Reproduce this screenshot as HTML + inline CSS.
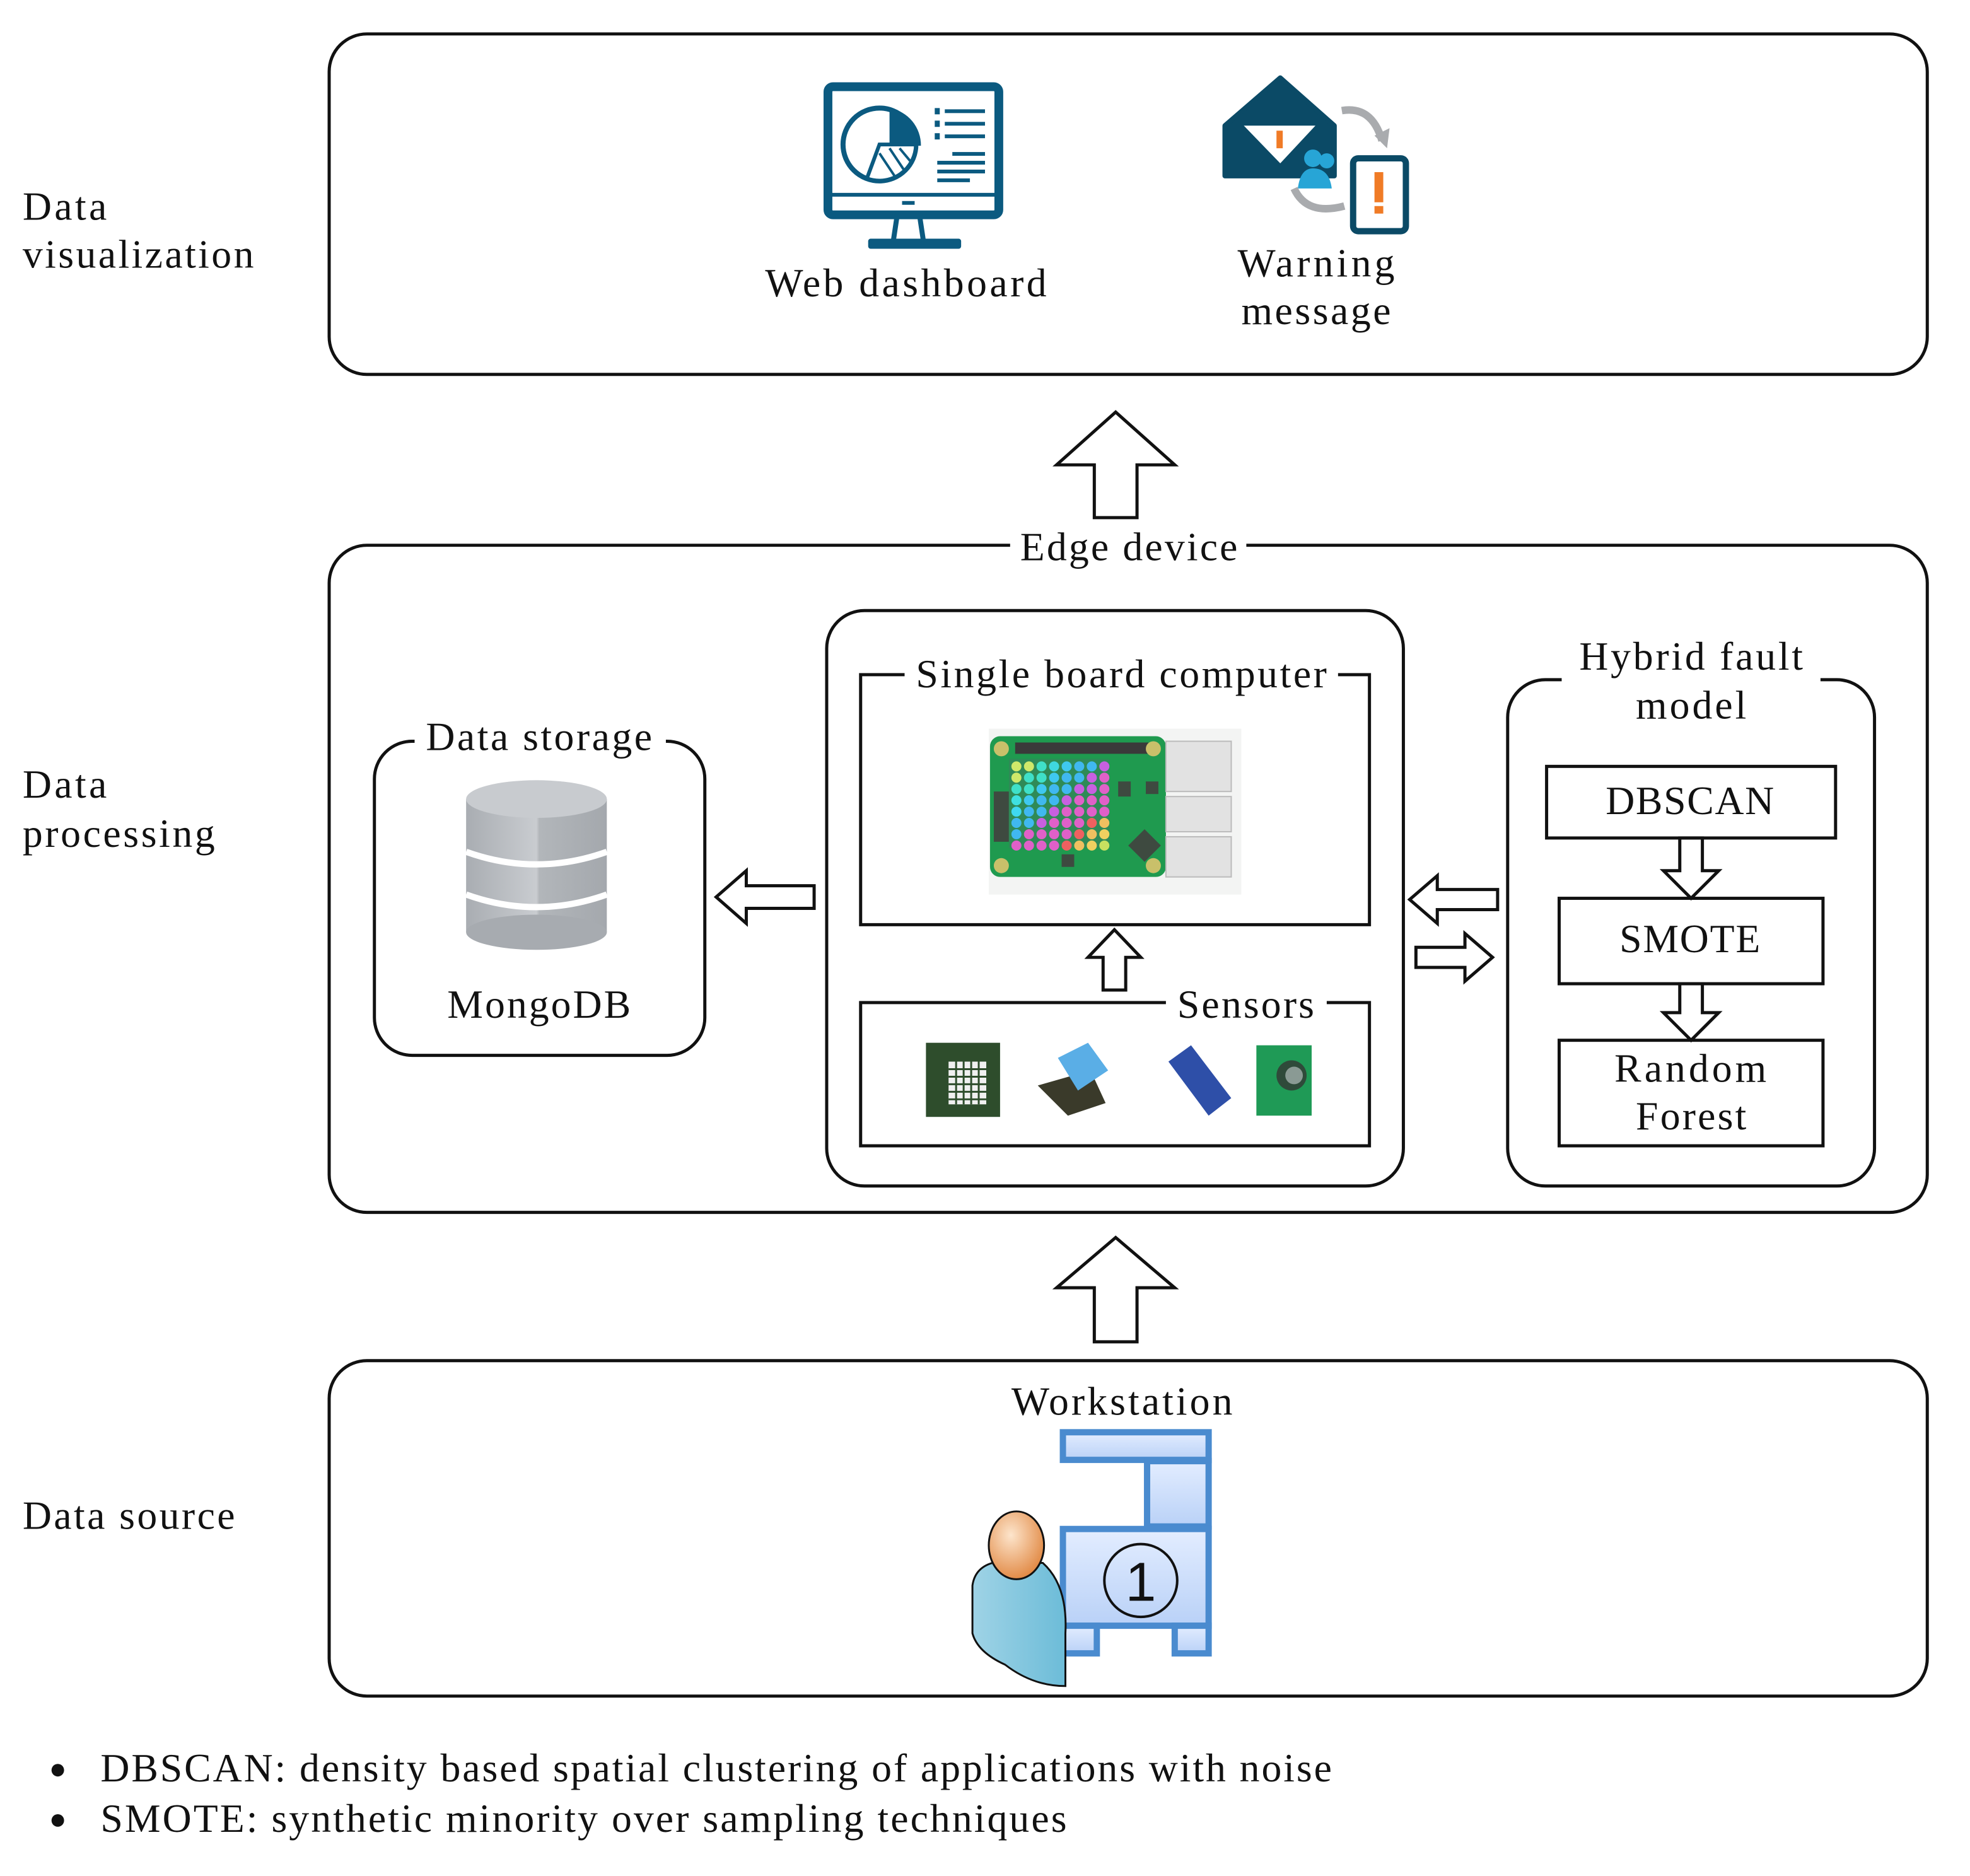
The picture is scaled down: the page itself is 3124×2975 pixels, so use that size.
<!DOCTYPE html>
<html><head><meta charset="utf-8"><style>
html,body{margin:0;padding:0;background:#fff;}
svg{display:block;}
text{font-family:"Liberation Serif",serif;fill:#111;}
</style></head><body>
<svg width="3124" height="2975" viewBox="0 0 1568 1493.2" xmlns="http://www.w3.org/2000/svg">
<defs>
<linearGradient id="bl" x1="0" y1="0" x2="0" y2="1"><stop offset="0" stop-color="#e3edff"/><stop offset="1" stop-color="#b9d1f7"/></linearGradient>
<radialGradient id="hd" cx="0.4" cy="0.35" r="0.7"><stop offset="0" stop-color="#fde5cc"/><stop offset="1" stop-color="#e0853e"/></radialGradient>
<linearGradient id="bd" x1="0" y1="0" x2="1" y2="0"><stop offset="0" stop-color="#9fd3e6"/><stop offset="1" stop-color="#6cbcd8"/></linearGradient>
<linearGradient id="cy" x1="0" y1="0" x2="1" y2="0"><stop offset="0" stop-color="#a9adb2"/><stop offset="0.5" stop-color="#c9ccd0"/><stop offset="0.52" stop-color="#b2b6ba"/><stop offset="1" stop-color="#a4a8ad"/></linearGradient>
</defs>
<g fill="none" stroke="#111" stroke-width="2.5">
<rect x="262" y="27" width="1272" height="271" rx="30"/>
<rect x="262" y="434" width="1272" height="531" rx="30"/>
<rect x="262" y="1083" width="1272" height="267" rx="30"/>
<rect x="298" y="590" width="263" height="250" rx="30"/>
<rect x="658" y="486" width="459" height="458" rx="30"/>
<rect x="685" y="537" width="405" height="199"/>
<rect x="685" y="798" width="405" height="114"/>
<rect x="1200" y="541" width="292" height="403" rx="30"/>
<rect x="1231" y="610" width="230" height="57"/>
<rect x="1241" y="715" width="210" height="68"/>
<rect x="1241" y="828" width="210" height="84"/>
<path d="M888 328 L935 370 L905 370 L905 412 L871 412 L871 370 L841 370 Z"/>
<path d="M888 985 L935 1025 L905 1025 L905 1068 L871 1068 L871 1025 L841 1025 Z"/>
<path d="M570 714 L594 693 L594 705 L648 705 L648 723 L594 723 L594 735 Z"/>
<path d="M887 740 L908 762 L896 762 L896 788 L878 788 L878 762 L866 762 Z"/>
<path d="M1346 715 L1368 693 L1355 693 L1355 667 L1337 667 L1337 693 L1324 693 Z"/>
<path d="M1346 828 L1368 806 L1355 806 L1355 783 L1337 783 L1337 806 L1324 806 Z"/>
<path d="M1122 716 L1144 697 L1144 708 L1192 708 L1192 724 L1144 724 L1144 735 Z"/>
<path d="M1188 762 L1166 743 L1166 754 L1127 754 L1127 770 L1166 770 L1166 781 Z"/>
</g>
<rect x="804" y="420" width="188" height="30" fill="#fff"/>
<rect x="330" y="575" width="200" height="30" fill="#fff"/>
<rect x="720" y="522" width="345" height="30" fill="#fff"/>
<rect x="928" y="785" width="128" height="28" fill="#fff"/>
<rect x="1243" y="520" width="206" height="40" fill="#fff"/>
<g font-size="32" lengthAdjust="spacingAndGlyphs">
<text x="18" y="175" textLength="67">Data</text>
<text x="18" y="213" textLength="184">visualization</text>
<text x="18" y="635" textLength="67">Data</text>
<text x="18" y="674" textLength="153">processing</text>
<text x="18" y="1217" textLength="169">Data source</text>
<text x="609" y="236" textLength="224">Web dashboard</text>
<text x="985" y="220" textLength="125">Warning</text>
<text x="988" y="258" textLength="119">message</text>
<text x="812" y="446" textLength="173">Edge device</text>
<text x="339" y="597" textLength="180">Data storage</text>
<text x="356" y="810" textLength="146">MongoDB</text>
<text x="729" y="547" textLength="327">Single board computer</text>
<text x="937" y="810" textLength="109">Sensors</text>
<text x="1257" y="533" textLength="178">Hybrid fault</text>
<text x="1302" y="572" textLength="88">model</text>
<text x="1278" y="648" textLength="134">DBSCAN</text>
<text x="1289" y="758" textLength="112">SMOTE</text>
<text x="1285" y="861" textLength="121">Random</text>
<text x="1302" y="899" textLength="88">Forest</text>
<text x="805" y="1126" textLength="176">Workstation</text>
<text x="80" y="1418" textLength="980">DBSCAN: density based spatial clustering of applications with noise</text>
<text x="80" y="1458" textLength="769">SMOTE: synthetic minority over sampling techniques</text>
</g>
<circle cx="46" cy="1409" r="5" fill="#111"/>
<circle cx="46" cy="1449" r="5" fill="#111"/>
<g>
<rect x="659" y="69" width="136" height="102" rx="4" fill="none" stroke="#0b5a80" stroke-width="7"/>
<line x1="662" y1="155" x2="792" y2="155" stroke="#0b5a80" stroke-width="3"/>
<rect x="718" y="160" width="10" height="3" fill="#0b5a80"/>
<path d="M714 172 L711 192 L735 192 L732 172 Z" fill="none" stroke="#0b5a80" stroke-width="4"/>
<rect x="691" y="190" width="74" height="8" rx="2" fill="#0b5a80"/>
<circle cx="700" cy="115" r="29" fill="none" stroke="#0b5a80" stroke-width="4"/>
<path d="M708 86 A30 30 0 0 1 733 116 L708 116 Z" fill="#0b5a80"/>
<path d="M700 115 L729 115 A29 29 0 0 1 690 142 Z" fill="#fff" stroke="#0b5a80" stroke-width="3"/>
<g stroke="#0b5a80" stroke-width="2"><line x1="700" y1="122" x2="712" y2="140"/><line x1="708" y1="118" x2="720" y2="136"/><line x1="716" y1="118" x2="726" y2="130"/></g>
<g fill="#0b5a80"><rect x="744" y="86" width="4" height="5"/><rect x="744" y="96" width="4" height="5"/><rect x="744" y="106" width="4" height="5"/>
<rect x="752" y="87" width="32" height="3"/><rect x="752" y="97" width="32" height="3"/><rect x="752" y="107" width="32" height="3"/>
<rect x="758" y="121" width="26" height="3"/><rect x="746" y="128" width="38" height="3"/><rect x="746" y="135" width="38" height="3"/><rect x="746" y="142" width="26" height="3"/></g>
</g>
<g>
<path d="M975 100 L1019 62 L1062 100 L1062 140 L975 140 Z" fill="#0b4a66" stroke="#0b4a66" stroke-width="4" stroke-linejoin="round"/>
<path d="M990 100 L1047 100 L1019 130 Z" fill="#fff"/>
<rect x="1016" y="104" width="5" height="14" fill="#f07b26"/>
<circle cx="1045" cy="126" r="7" fill="#27a5d6"/><circle cx="1056" cy="128" r="6" fill="#27a5d6"/>
<path d="M1033 150 Q1035 134 1045 134 Q1058 134 1060 150 Z" fill="#27a5d6"/>
<path d="M1068 88 Q1092 84 1100 112" fill="none" stroke="#a9abae" stroke-width="6"/>
<path d="M1094 108 L1104 118 L1106 102 Z" fill="#a9abae"/>
<path d="M1070 164 Q1040 172 1030 150" fill="none" stroke="#a9abae" stroke-width="6"/>
<rect x="1077" y="126" width="42" height="58" rx="4" fill="#fff" stroke="#0b4a66" stroke-width="5"/>
<rect x="1094" y="137" width="7" height="24" fill="#f07b26"/><rect x="1094" y="164" width="7" height="6" fill="#f07b26"/>
</g>
<g>
<rect x="371" y="636" width="112" height="106" fill="url(#cy)"/>
<ellipse cx="427" cy="742" rx="56" ry="14" fill="#a7abb0"/>
<ellipse cx="427" cy="636" rx="56" ry="15" fill="#c8cbcf"/>
<path d="M371 678 Q427 698 483 678" fill="none" stroke="#fff" stroke-width="5"/>
<path d="M371 712 Q427 732 483 712" fill="none" stroke="#fff" stroke-width="5"/>
</g>
<g>
<rect x="787" y="580" width="201" height="132" fill="#f3f4f3"/>
<rect x="788" y="586" width="140" height="112" rx="8" fill="#1f9a4f"/>
<rect x="928" y="590" width="52" height="40" fill="#e2e2e2" stroke="#bbb"/>
<rect x="928" y="634" width="52" height="28" fill="#e2e2e2" stroke="#bbb"/>
<rect x="928" y="666" width="52" height="32" fill="#e2e2e2" stroke="#bbb"/>
<rect x="808" y="591" width="106" height="9" fill="#3a3a3a"/>
<circle cx="797" cy="596" r="6" fill="#c9c06a"/><circle cx="918" cy="596" r="6" fill="#c9c06a"/>
<circle cx="797" cy="689" r="6" fill="#c9c06a"/><circle cx="918" cy="689" r="6" fill="#c9c06a"/>
<rect x="791" y="630" width="12" height="40" fill="#3e4a40"/>
<rect x="803" y="604" width="80" height="71" fill="#2f8a57"/>
<g>
<circle cx="809" cy="610" r="4" fill="#cfe86a"/><circle cx="819" cy="610" r="4" fill="#cfe86a"/><circle cx="829" cy="610" r="4" fill="#3fe0c8"/><circle cx="839" cy="610" r="4" fill="#3fd8e0"/><circle cx="849" cy="610" r="4" fill="#3fc8f0"/><circle cx="859" cy="610" r="4" fill="#40b8f0"/><circle cx="869" cy="610" r="4" fill="#40b8f0"/><circle cx="879" cy="610" r="4" fill="#c860e0"/>
<circle cx="809" cy="619" r="4" fill="#cfe86a"/><circle cx="819" cy="619" r="4" fill="#3fe0c8"/><circle cx="829" cy="619" r="4" fill="#3fe0c8"/><circle cx="839" cy="619" r="4" fill="#3fc8f0"/><circle cx="849" cy="619" r="4" fill="#40b8f0"/><circle cx="859" cy="619" r="4" fill="#40b8f0"/><circle cx="869" cy="619" r="4" fill="#c860e0"/><circle cx="879" cy="619" r="4" fill="#e060c8"/>
<circle cx="809" cy="628" r="4" fill="#3fe0c8"/><circle cx="819" cy="628" r="4" fill="#3fe0c8"/><circle cx="829" cy="628" r="4" fill="#3fc8f0"/><circle cx="839" cy="628" r="4" fill="#40b8f0"/><circle cx="849" cy="628" r="4" fill="#40b8f0"/><circle cx="859" cy="628" r="4" fill="#c860e0"/><circle cx="869" cy="628" r="4" fill="#c860e0"/><circle cx="879" cy="628" r="4" fill="#e060c8"/>
<circle cx="809" cy="637" r="4" fill="#3fe0e0"/><circle cx="819" cy="637" r="4" fill="#3fc8f0"/><circle cx="829" cy="637" r="4" fill="#40b8f0"/><circle cx="839" cy="637" r="4" fill="#40b8f0"/><circle cx="849" cy="637" r="4" fill="#c860e0"/><circle cx="859" cy="637" r="4" fill="#e060c8"/><circle cx="869" cy="637" r="4" fill="#e060c8"/><circle cx="879" cy="637" r="4" fill="#e060c8"/>
<circle cx="809" cy="646" r="4" fill="#3fd8f0"/><circle cx="819" cy="646" r="4" fill="#40b8f0"/><circle cx="829" cy="646" r="4" fill="#40b8f0"/><circle cx="839" cy="646" r="4" fill="#c860e0"/><circle cx="849" cy="646" r="4" fill="#e060c8"/><circle cx="859" cy="646" r="4" fill="#e060c8"/><circle cx="869" cy="646" r="4" fill="#e060c8"/><circle cx="879" cy="646" r="4" fill="#e060c8"/>
<circle cx="809" cy="655" r="4" fill="#40b8f0"/><circle cx="819" cy="655" r="4" fill="#40b8f0"/><circle cx="829" cy="655" r="4" fill="#c860e0"/><circle cx="839" cy="655" r="4" fill="#e060c8"/><circle cx="849" cy="655" r="4" fill="#e060c8"/><circle cx="859" cy="655" r="4" fill="#e060c8"/><circle cx="869" cy="655" r="4" fill="#f06060"/><circle cx="879" cy="655" r="4" fill="#f0c060"/>
<circle cx="809" cy="664" r="4" fill="#40b8f0"/><circle cx="819" cy="664" r="4" fill="#e060c8"/><circle cx="829" cy="664" r="4" fill="#e060c8"/><circle cx="839" cy="664" r="4" fill="#e060c8"/><circle cx="849" cy="664" r="4" fill="#e060c8"/><circle cx="859" cy="664" r="4" fill="#f06060"/><circle cx="869" cy="664" r="4" fill="#f0c060"/><circle cx="879" cy="664" r="4" fill="#f0d060"/>
<circle cx="809" cy="673" r="4" fill="#e060c8"/><circle cx="819" cy="673" r="4" fill="#e060c8"/><circle cx="829" cy="673" r="4" fill="#e060c8"/><circle cx="839" cy="673" r="4" fill="#e060c8"/><circle cx="849" cy="673" r="4" fill="#f06060"/><circle cx="859" cy="673" r="4" fill="#f0c060"/><circle cx="869" cy="673" r="4" fill="#f0d060"/><circle cx="879" cy="673" r="4" fill="#c8e060"/>
</g>
<rect x="890" y="622" width="10" height="12" fill="#3e4a40"/>
<rect x="912" y="622" width="10" height="10" fill="#3e4a40"/>
<path d="M911 660 L924 673 L911 686 L898 673 Z" fill="#3e4a40"/>
<rect x="845" y="680" width="10" height="10" fill="#3e4a40"/>
</g>
<g>
<rect x="737" y="830" width="59" height="59" fill="#2e4d2c"/>
<rect x="755" y="845" width="30" height="34" fill="#f0f0f0"/>
<g stroke="#2e4d2c" stroke-width="1.5"><line x1="761" y1="845" x2="761" y2="879"/><line x1="767" y1="845" x2="767" y2="879"/><line x1="773" y1="845" x2="773" y2="879"/><line x1="779" y1="845" x2="779" y2="879"/><line x1="755" y1="851" x2="785" y2="851"/><line x1="755" y1="857" x2="785" y2="857"/><line x1="755" y1="863" x2="785" y2="863"/><line x1="755" y1="869" x2="785" y2="869"/><line x1="755" y1="875" x2="785" y2="875"/></g>
<path d="M826 864 L868 852 L880 878 L850 888 Z" fill="#3a3a2a"/>
<path d="M842 842 L866 830 L882 852 L858 868 Z" fill="#5aaee6"/>
<path d="M930 845 L948 832 L980 874 L962 888 Z" fill="#2e4fa8"/>
<rect x="1000" y="832" width="44" height="56" fill="#1f9a56"/>
<circle cx="1028" cy="856" r="12" fill="#2f4a3a"/><circle cx="1030" cy="856" r="7" fill="#8a9a94"/>
</g>
<g stroke="#4a8bcf" stroke-width="5" fill="url(#bl)">
<rect x="846" y="1140" width="116" height="22"/>
<rect x="913" y="1163" width="49" height="52"/>
<rect x="846" y="1217" width="116" height="77"/>
<rect x="846" y="1294" width="27" height="22"/>
<rect x="935" y="1294" width="27" height="22"/>
</g>
<circle cx="908" cy="1258" r="29" fill="none" stroke="#111" stroke-width="2"/>
<text x="908" y="1274" text-anchor="middle" font-size="44" style="font-family:'Liberation Sans',sans-serif">1</text>
<path d="M790 1244 L830 1244 Q850 1262 848 1300 L848 1342 Q822 1342 800 1325 Q778 1315 774 1300 L774 1262 Q776 1248 790 1244 Z" fill="url(#bd)" stroke="#111" stroke-width="1.5"/>
<ellipse cx="809" cy="1230" rx="22" ry="27" fill="url(#hd)" stroke="#111" stroke-width="1.5"/>
</svg>
</body></html>
